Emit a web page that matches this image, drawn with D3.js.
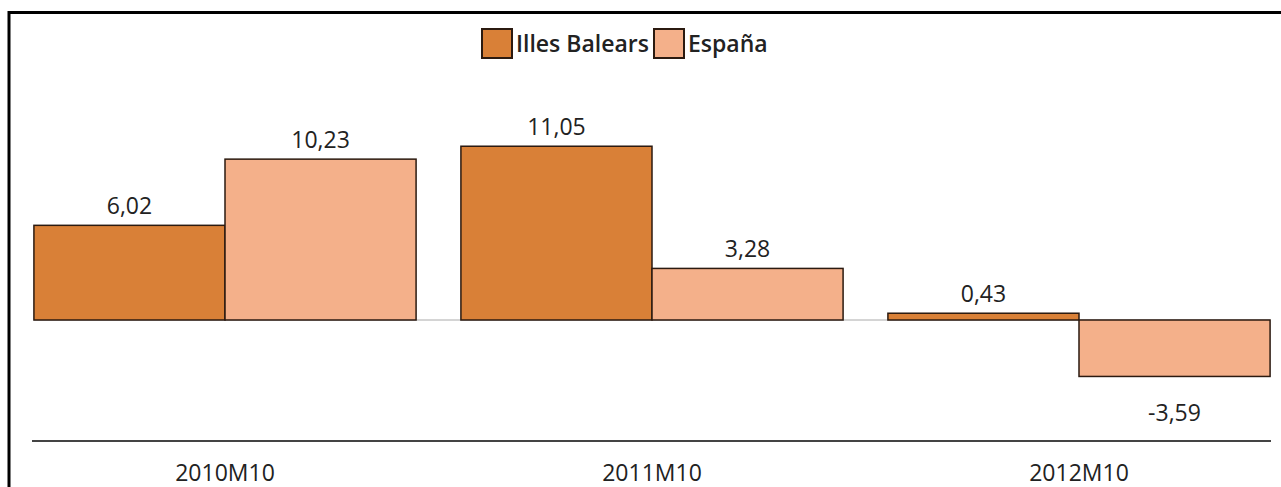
<!DOCTYPE html>
<html>
<head>
  <meta charset="UTF-8">
  <title></title>
  <script src="https://cdn.jsdelivr.net/npm/d3@7"></script>
  <style>
    body { margin: 0; background: #fff; }
    text { font-family: 'Open Sans', sans-serif; fill: #222; }
  </style>
</head>
<body>
<div id="chart"></div>
<script>
  var categories = ['2010M10', '2011M10', '2012M10'];
  var seriesNames = ['Illes Balears', 'España'];
  var balears = [6.02, 11.05, 0.43];
  var espana = [10.23, 3.28, -3.59];
  var colors = ['#d98037', '#f4b08a'];

  var w = 1281, h = 487;

  var svg = d3.select('#chart').append('svg')
      .attr('width', w)
      .attr('height', h);

  // frame
  svg.append('rect')
      .attr('x', 9).attr('y', 12.5)
      .attr('width', 1300).attr('height', 600)
      .attr('fill', 'none')
      .attr('stroke', '#000')
      .attr('stroke-width', 3);

  var x0 = d3.scaleBand().domain(categories).range([11.5, 1292.5]).paddingInner(0.105).paddingOuter(0.0525);
  var x1 = d3.scaleBand().domain(seriesNames).range([0, x0.bandwidth()]);
  var y = d3.scaleLinear().domain([-4, 12]).range([382.9, 131.3]);

  // zero line
  svg.append('line')
      .attr('x1', 34).attr('x2', 1270)
      .attr('y1', y(0)).attr('y2', y(0))
      .attr('stroke', '#aaa').attr('stroke-width', 1);

  var rows = categories.map(function(c, i){
    return {cat: c, vals: [balears[i], espana[i]]};
  });

  var groups = svg.selectAll('g.grp')
      .data(rows)
      .enter().append('g')
      .attr('class', 'grp')
      .attr('transform', function(d){ return 'translate(' + x0(d.cat) + ',0)'; });

  var cells = groups.selectAll('g.cell')
      .data(function(d){ return d.vals.map(function(v, j){ return {name: seriesNames[j], v: v, j: j}; }); })
      .enter().append('g').attr('class', 'cell');

  cells.append('rect')
      .attr('x', function(d){ return x1(d.name); })
      .attr('width', x1.bandwidth())
      .attr('y', function(d){ return y(Math.max(0, d.v)); })
      .attr('height', function(d){ return Math.abs(y(d.v) - y(0)); })
      .attr('fill', function(d){ return colors[d.j]; })
      .attr('stroke', '#2b1a10')
      .attr('stroke-width', 1.5);

  var fmt = function(v){ return v.toFixed(2).replace('.', ','); };

  cells.append('text')
      .attr('x', function(d){ return x1(d.name) + x1.bandwidth() / 2; })
      .attr('y', function(d){ return d.v >= 0 ? y(d.v) - 11 : y(d.v) + 45; })
      .attr('text-anchor', 'middle')
      .style('font-size', '23px')
      .text(function(d){ return fmt(d.v); });

  // bottom axis
  var axis = svg.append('g').attr('transform', 'translate(0,441)');
  axis.append('line')
      .attr('x1', 32).attr('x2', 1271)
      .attr('stroke', '#444').attr('stroke-width', 2);
  axis.selectAll('text')
      .data(categories)
      .enter().append('text')
      .attr('x', function(d){ return x0(d) + x0.bandwidth() / 2; })
      .attr('y', 40)
      .attr('text-anchor', 'middle')
      .style('font-size', '23px')
      .text(function(d){ return d; });

  // legend
  var legend = svg.append('g').attr('transform', 'translate(482,29)');
  var lx = [0, 172];
  seriesNames.forEach(function(n, i){
    legend.append('rect')
        .attr('x', lx[i]).attr('y', 0)
        .attr('width', 30).attr('height', 29)
        .attr('fill', colors[i])
        .attr('stroke', '#2b1a10').attr('stroke-width', 2);
    legend.append('text')
        .attr('x', lx[i] + 34).attr('y', 23)
        .style('font-size', '23px')
        .style('font-weight', 600)
        .text(n);
  });
</script>
</body>
</html>
